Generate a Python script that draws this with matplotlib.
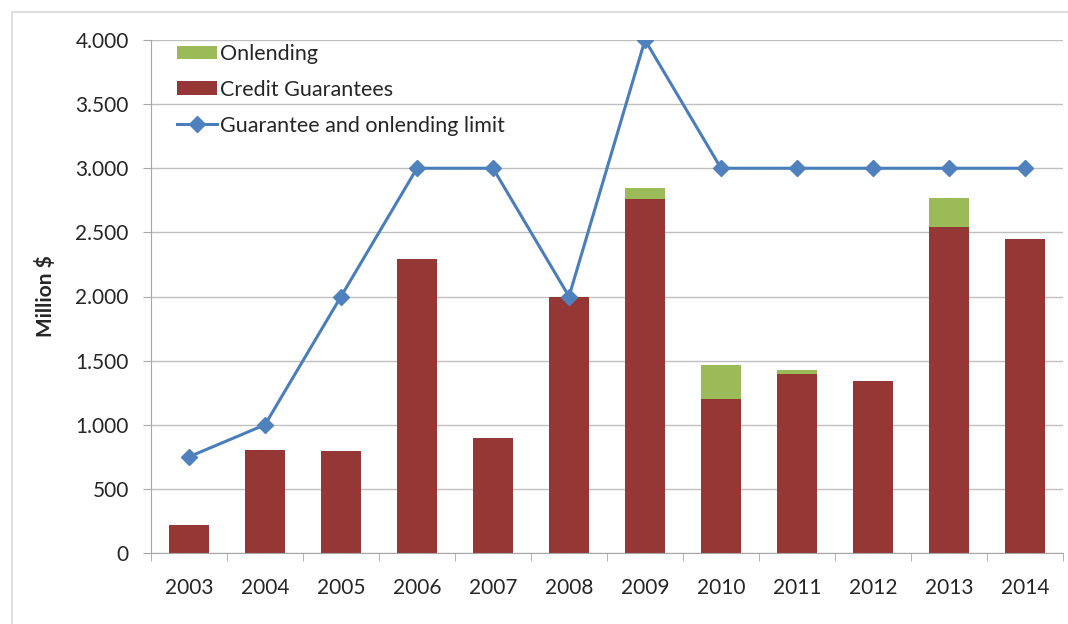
import matplotlib
matplotlib.use("Agg")
import matplotlib.pyplot as plt
from matplotlib.patches import Rectangle
import numpy as np

years = ["2003", "2004", "2005", "2006", "2007", "2008", "2009", "2010", "2011", "2012", "2013", "2014"]
credit_guarantees = [218, 800, 795, 2290, 900, 2000, 2760, 1200, 1395, 1340, 2545, 2450]
onlending = [0, 0, 0, 0, 0, 0, 85, 265, 30, 0, 220, 0]
limit = [750, 1000, 2000, 3000, 3000, 2000, 4000, 3000, 3000, 3000, 3000, 3000]
yticks = [0, 500, 1000, 1500, 2000, 2500, 3000, 3500, 4000]
ytick_labels = ["0", "500", "1.000", "1.500", "2.000", "2.500", "3.000", "3.500", "4.000"]

plt.rcParams['font.family'] = ['Lato', 'DejaVu Sans']

fig = plt.figure(figsize=(10.68, 6.24), dpi=100)
ax = fig.add_axes([151/1068, 1-553/624, (1063-151)/1068, (553-40)/624])

# outer frame
fig.patches.append(Rectangle((12/1068, -0.05), 1.2, 1-12/624+0.05, transform=fig.transFigure,
                             fill=False, edgecolor='#d9d9d9', linewidth=1.2, zorder=0))

x = np.arange(len(years))
red = '#953735'
green = '#9BBB59'
blue = '#4A7EBB'

b1 = ax.bar(x, credit_guarantees, width=0.52, color=red, label='Credit Guarantees', zorder=2)
b2 = ax.bar(x, onlending, width=0.52, bottom=credit_guarantees, color=green, label='Onlending', zorder=2)
l1, = ax.plot(x, limit, color=blue, linewidth=2.2, marker='D', markersize=8,
              markerfacecolor='#4F81BD', markeredgecolor='#4F81BD',
              label='Guarantee and onlending limit', zorder=3)

ax.set_xlim(-0.5, len(years) - 0.5)
ax.set_ylim(0, 4000)
ax.set_yticks(yticks)
ax.set_yticklabels(ytick_labels, fontsize=15, color='#262626')
ax.set_xticks(x)
ax.set_xticklabels(years, fontsize=15, color='#262626')
ax.set_xticks(np.arange(-0.5, len(years), 1), minor=True)
ax.tick_params(axis='x', which='major', length=0, pad=18)
ax.tick_params(axis='x', which='minor', length=6, color='#a6a6a6')
ax.tick_params(axis='y', length=6, color='#a6a6a6', pad=10)
ax.set_ylabel('Million $', fontsize=15, fontweight='bold', labelpad=14, color='#262626')

ax.grid(axis='y', color='#bfbfbf', linewidth=1, zorder=0)
ax.set_axisbelow(True)
for s in ['top', 'right']:
    ax.spines[s].set_visible(False)
ax.spines['left'].set_color('#a6a6a6')
ax.spines['bottom'].set_color('#a6a6a6')

leg = ax.legend([b2, b1, l1], ['Onlending', 'Credit Guarantees', 'Guarantee and onlending limit'],
                loc='upper left', bbox_to_anchor=(0.0285, 0.992), frameon=False, fontsize=15.5,
                borderpad=0, borderaxespad=0,
                handlelength=1.85, handleheight=0.6, handletextpad=0.15, labelspacing=0.73)
for t in leg.get_texts():
    t.set_color('#262626')

fig.savefig('out.png', dpi=100)
